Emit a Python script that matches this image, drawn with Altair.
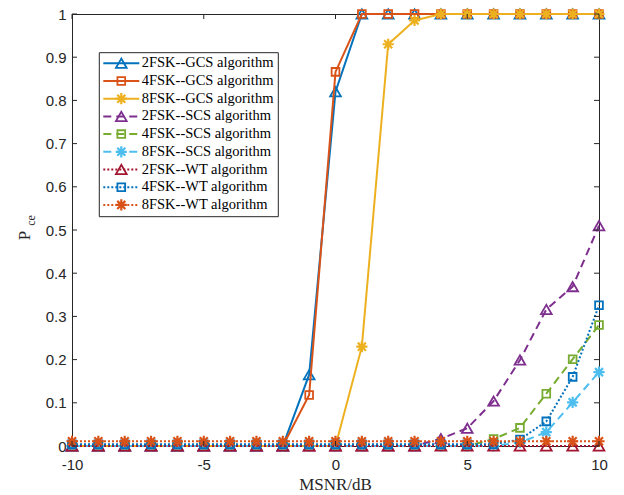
import altair as alt
import pandas as pd

# ---------------- data ----------------
x_vals = [-10, -9, -8, -7, -6, -5, -4, -3, -2, -1, 0, 1, 2, 3, 4, 5, 6, 7, 8, 9, 10]

gcs_2fsk = [0, 0, 0, 0, 0, 0, 0, 0, 0, 0.165, 0.82, 1, 1, 1, 1, 1, 1, 1, 1, 1, 1]
gcs_4fsk = [0, 0, 0, 0, 0, 0, 0, 0, 0, 0.118, 0.866, 1, 1, 1, 1, 1, 1, 1, 1, 1, 1]
gcs_8fsk = [0, 0, 0, 0, 0, 0, 0, 0, 0, 0, 0, 0.23, 0.93, 0.985, 1, 1, 1, 1, 1, 1, 1]
scs_2fsk = [0, 0, 0, 0, 0, 0, 0, 0, 0, 0, 0, 0, 0, 0, 0.017, 0.041, 0.104, 0.199, 0.316, 0.369, 0.51]
scs_4fsk = [0, 0, 0, 0, 0, 0, 0, 0, 0, 0, 0, 0, 0, 0, 0, 0, 0.016, 0.042, 0.121, 0.201, 0.28]
scs_8fsk = [0, 0, 0, 0, 0, 0, 0, 0, 0, 0, 0, 0, 0, 0, 0, 0, 0, 0.008, 0.032, 0.101, 0.171]
wt_2fsk = [0, 0, 0, 0, 0, 0, 0, 0, 0, 0, 0, 0, 0, 0, 0, 0, 0, 0, 0, 0, 0]
wt_4fsk = [0.004, 0.004, 0.004, 0.004, 0.004, 0.004, 0.004, 0.004, 0.004, 0.004, 0.004,
           0.004, 0.004, 0.004, 0.004, 0.004, 0.004, 0.015, 0.057, 0.16, 0.326]
wt_8fsk = [0.011, 0.011, 0.011, 0.011, 0.011, 0.011, 0.011, 0.011, 0.011, 0.011, 0.011,
           0.011, 0.011, 0.011, 0.011, 0.011, 0.011, 0.011, 0.011, 0.011, 0.011]

series_names = [
    "2FSK--GCS algorithm", "4FSK--GCS algorithm", "8FSK--GCS algorithm",
    "2FSK--SCS algorithm", "4FSK--SCS algorithm", "8FSK--SCS algorithm",
    "2FSK--WT algorithm", "4FSK--WT algorithm", "8FSK--WT algorithm",
]
series_values = [gcs_2fsk, gcs_4fsk, gcs_8fsk, scs_2fsk, scs_4fsk, scs_8fsk, wt_2fsk, wt_4fsk, wt_8fsk]

x_ticks = [-10, -5, 0, 5, 10]
y_ticks = [0, 0.1, 0.2, 0.3, 0.4, 0.5, 0.6, 0.7, 0.8, 0.9, 1]

# ---------------- styling ----------------
W, H = 527, 432
AX = "#262626"
colors = ["#0072BD", "#D95319", "#EDB120", "#7E2F8E", "#77AC30", "#4DBEEE", "#A2142F", "#0072BD", "#D95319"]
dashes = [None, None, None, [8, 5], [8, 5], [8, 5], [2, 2], [2, 2], [2, 2]]
ASTERISK = "M-1,0L1,0M0,-1L0,1M-0.72,-0.72L0.72,0.72M-0.72,0.72L0.72,-0.72"
shapes = ["triangle-up", "square", ASTERISK] * 3
sizes = [115, 60, 125] * 3
mwidths = [1.8, 1.8, 2.2] * 3

xs = alt.Scale(domain=[-10, 10], nice=False, zero=False)
ys = alt.Scale(domain=[0, 1], nice=False, zero=False)

x_axis = alt.Axis(values=x_ticks, ticks=False, grid=False, title=None,
                  labelExpr="'' + datum.value", labelFont="Liberation Sans",
                  labelFontSize=15, labelColor=AX, labelPadding=18,
                  labelBaseline="middle", labelFlush=False,
                  domainColor=AX, domainWidth=1)
y_axis = alt.Axis(values=y_ticks, ticks=False, grid=False, title=None,
                  format="~g", labelFont="Liberation Sans",
                  labelFontSize=15, labelColor=AX, labelPadding=6,
                  domainColor=AX, domainWidth=1)

X = lambda f: alt.X(f, scale=xs, axis=x_axis)
Y = lambda f: alt.Y(f, scale=ys, axis=y_axis)

layers = []
for i, (name, vals) in enumerate(zip(series_names, series_values)):
    df = pd.DataFrame({"x": x_vals, "y": vals})
    lkw = dict(color=colors[i], strokeWidth=2, clip=False)
    if dashes[i] is not None:
        lkw["strokeDash"] = dashes[i]
    layers.append(alt.Chart(df).mark_line(**lkw).encode(x=X("x:Q"), y=Y("y:Q")))
    layers.append(alt.Chart(df).mark_point(shape=shapes[i], filled=False, size=sizes[i],
                                           strokeWidth=mwidths[i], color=colors[i],
                                           opacity=1, clip=False)
                  .encode(x=X("x:Q"), y=Y("y:Q")))

# inward ticks on all four sides
xt = pd.DataFrame({"v": x_ticks})
yt = pd.DataFrame({"v": y_ticks})
tick_style = dict(color=AX, strokeWidth=1)
layers.append(alt.Chart(xt).mark_rule(**tick_style).encode(x=X("v:Q"), y=alt.value(H), y2=alt.value(H - 5)))
layers.append(alt.Chart(xt).mark_rule(**tick_style).encode(x=X("v:Q"), y=alt.value(0), y2=alt.value(5)))
layers.append(alt.Chart(yt).mark_rule(**tick_style).encode(y=Y("v:Q"), x=alt.value(0), x2=alt.value(5)))
layers.append(alt.Chart(yt).mark_rule(**tick_style).encode(y=Y("v:Q"), x=alt.value(W), x2=alt.value(W - 5)))

one = pd.DataFrame({"a": [0]})

# legend
LX0, LX1, LY0, LY1 = 27.3, 206.3, 38.7, 202.7
layers.append(alt.Chart(one).mark_rect(fill="white", stroke=AX, strokeWidth=1).encode(
    x=alt.value(LX0), x2=alt.value(LX1), y=alt.value(LY0), y2=alt.value(LY1)))
for i, name in enumerate(series_names):
    ry = 49.3 + i * 17.7
    rkw = dict(color=colors[i], strokeWidth=2)
    if dashes[i] is not None:
        rkw["strokeDash"] = dashes[i]
    layers.append(alt.Chart(one).mark_rule(**rkw).encode(
        x=alt.value(31.3), x2=alt.value(67.3), y=alt.value(ry)))
    layers.append(alt.Chart(one).mark_point(shape=shapes[i], filled=False, size=sizes[i],
                                            strokeWidth=mwidths[i], color=colors[i], opacity=1)
                  .encode(x=alt.value(49.3), y=alt.value(ry)))
    layers.append(alt.Chart(one).mark_text(text=name, align="left", baseline="middle",
                                           font="Liberation Serif", fontSize=14.5, color="#000000")
                  .encode(x=alt.value(69.7), y=alt.value(ry)))

# axis titles
layers.append(alt.Chart(one).mark_text(text="MSNR/dB", align="center", baseline="middle",
                                       font="Liberation Serif", fontSize=17, color=AX)
              .encode(x=alt.value(W / 2), y=alt.value(H + 39)))
layers.append(alt.Chart(one).mark_text(text="P", align="center", baseline="middle", angle=270,
                                       font="Liberation Serif", fontSize=17, color=AX)
              .encode(x=alt.value(-47.5), y=alt.value(221.5)))
layers.append(alt.Chart(one).mark_text(text="ce", align="center", baseline="middle", angle=270,
                                       font="Liberation Serif", fontSize=12, color=AX)
              .encode(x=alt.value(-41.5), y=alt.value(206.5)))

chart = alt.layer(*layers).properties(
    width=W, height=H,
    autosize=alt.AutoSizeParams(type="none"),
    padding={"left": 72, "top": 14, "right": 25, "bottom": 49},
    background="white",
).configure_view(stroke=AX, strokeWidth=1)

chart.save("out.html", embed_options={"renderer": "svg", "actions": False})
